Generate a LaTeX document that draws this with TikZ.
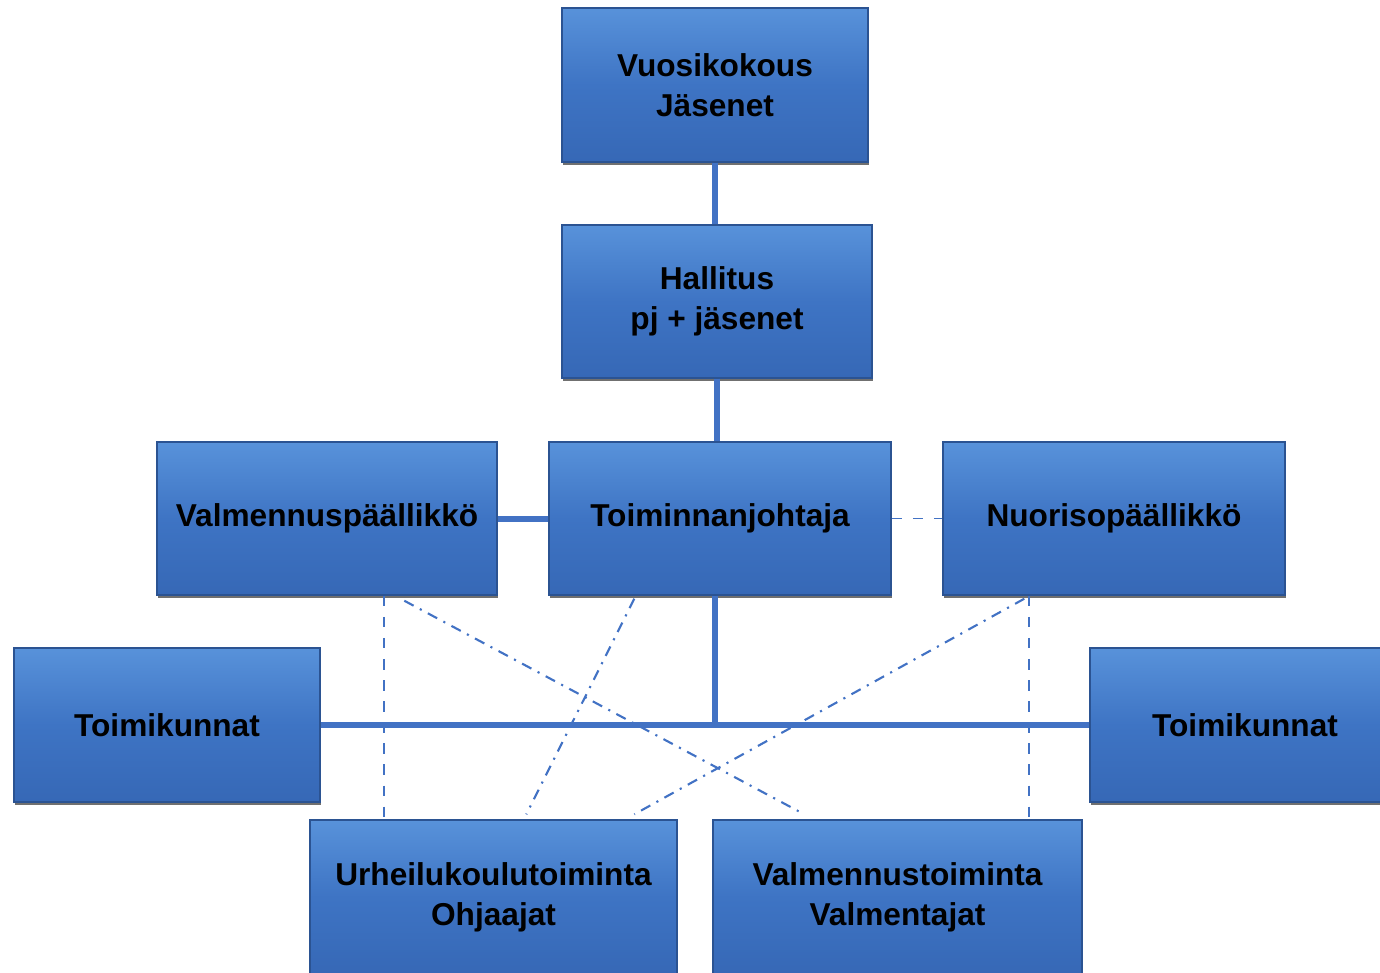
\documentclass[tikz,border=0pt]{standalone}
\usepackage{fontspec}
\setmainfont{Liberation Sans}
\usepackage{tikz}
\usetikzlibrary{positioning, shadows}
\definecolor{boxblue}{RGB}{62,116,196}
\definecolor{boxlight}{RGB}{88,146,218}
\definecolor{boxdark}{RGB}{54,104,182}
\definecolor{linkblue}{RGB}{66,114,196}

\begin{document}
\begin{tikzpicture}[
			every node/.style={font=\fontsize{9}{11.4}\selectfont\bfseries},
			orgbox/.style={rectangle, draw=boxdark!80!black, line width=0.4pt, top color=boxlight, bottom color=boxdark, middle color=boxblue, inner sep=2pt, align=center, drop shadow={shadow xshift=0.4pt, shadow yshift=-0.9pt, fill=black!70, opacity=0.8}},
			link/.style={draw=linkblue, line width=1.7pt},
			weak/.style={draw=linkblue, line width=0.5pt, dashed},
			cross/.style={draw=linkblue, line width=0.6pt, dash dot}
		]
		\useasboundingbox (0,0) rectangle (13.8,-9.72);

		% Top levels
		\node[orgbox, minimum width=3.06cm, minimum height=1.54cm] (vuosi) at (7.15,-0.85) {Vuosikokous\\Jäsenet};
		\node[orgbox, minimum width=3.10cm, minimum height=1.53cm] (hall) at (7.17,-3.015) {Hallitus\\pj + jäsenet};

		% Middle row
		\node[orgbox, minimum width=3.40cm, minimum height=1.53cm] (valm) at (3.27,-5.185) {Valmennuspäällikkö};
		\node[orgbox, minimum width=3.42cm, minimum height=1.53cm] (toim) at (7.20,-5.185) {Toiminnanjohtaja};
		\node[orgbox, minimum width=3.42cm, minimum height=1.53cm] (nuor) at (11.14,-5.185) {Nuorisopäällikkö};

		% Committees
		\node[orgbox, minimum width=3.06cm, minimum height=1.54cm] (tkl) at (1.67,-7.25) {Toimikunnat};
		\node[orgbox, minimum width=3.10cm, minimum height=1.54cm] (tkr) at (12.45,-7.25) {Toimikunnat};

		% Bottom row
		\node[orgbox, minimum width=3.67cm, minimum height=1.54cm] (urh) at (4.935,-8.97) {Urheilukoulutoiminta\\Ohjaajat};
		\node[orgbox, minimum width=3.69cm, minimum height=1.54cm] (valt) at (8.975,-8.97) {Valmennustoiminta\\Valmentajat};

		% Solid lines
		\draw[link] (vuosi.south) -- (vuosi.south |- hall.north);
		\draw[link] (hall.south) -- (hall.south |- toim.north);
		\draw[link] (valm.east) -- (toim.west);
		\draw[link] ([xshift=-0.05cm]toim.south) -- ([xshift=-0.05cm]toim.south |- tkl.east);
		\draw[link] (tkl.east) -- (tkr.west);

		% Dashed lines
		\draw[weak] (toim.east) -- (nuor.west);
		\draw[weak] ([xshift=2.28cm]valm.south west) -- ([xshift=2.28cm]valm.south west |- urh.north);
		\draw[weak] ([xshift=0.87cm]nuor.south west) -- ([xshift=0.87cm]nuor.south west |- valt.north);

		% Crossing lines
		\draw[cross] ([xshift=2.48cm, yshift=-0.05cm]valm.south west) -- ([xshift=0.92cm, yshift=0.05cm]valt.north west);
		\draw[cross] ([xshift=0.86cm, yshift=-0.03cm]toim.south west) -- ([xshift=2.17cm, yshift=0.05cm]urh.north west);
		\draw[cross] ([xshift=0.82cm, yshift=-0.03cm]nuor.south west) -- ([xshift=3.25cm, yshift=0.05cm]urh.north west);

	\end{tikzpicture}
\end{document}
